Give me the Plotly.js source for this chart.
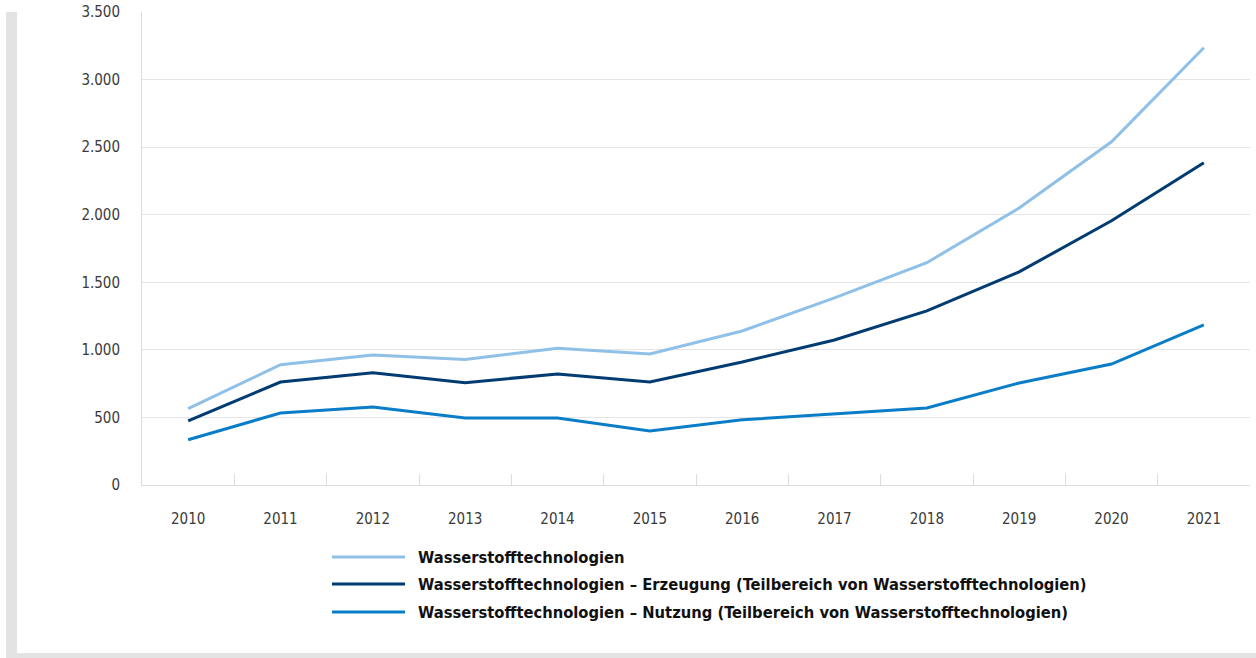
<!DOCTYPE html>
<html>
<head>
<meta charset="utf-8">
<script src="https://cdn.plot.ly/plotly-3.0.1.min.js"></script>
<style>html,body{margin:0;padding:0;background:#fff;}#chart{width:1256px;height:658px;}</style>
</head>
<body>
<div id="chart"></div>
<script>
const years = ['2010','2011','2012','2013','2014','2015','2016','2017','2018','2019','2020','2021'];
const seriesNames = [
  'Wasserstofftechnologien',
  'Wasserstofftechnologien – Erzeugung (Teilbereich von Wasserstofftechnologien)',
  'Wasserstofftechnologien – Nutzung (Teilbereich von Wasserstofftechnologien)'
];
const gesamt   = [565, 890, 962, 928, 1012, 970, 1140, 1385, 1645, 2050, 2540, 3235];
const erzeugung = [475, 762, 830, 757, 822, 763, 910, 1073, 1288, 1577, 1955, 2385];
const nutzung  = [335, 533, 577, 495, 495, 400, 482, 525, 570, 755, 895, 1185];
const colors = ['#8fc0e8', '#003b72', '#0a7dc9'];

const W = 1256, H = 658;
const M = {l: 142, r: 6, t: 12, b: 173};
const PW = W - M.l - M.r, PH = H - M.t - M.b;
const px = x => (x - M.l) / PW;
const py = y => (H - M.b - y) / PH;

const tickFont = {family: '"DejaVu Sans Condensed", "Open Sans", sans-serif', size: 15, color: '#3a3a3a'};
const legFont = {family: '"DejaVu Sans Condensed", "Open Sans", sans-serif', size: 16.4, color: '#111111'};

const data = [gesamt, erzeugung, nutzung].map((vals, i) => ({
  type: 'scatter', mode: 'lines', x: years, y: vals, name: seriesNames[i],
  line: {color: colors[i], width: 3}, showlegend: false, hoverinfo: 'x+y'
}));

const legendY = [557, 584, 612];
const shapes = [
  {type: 'rect', xref: 'paper', yref: 'paper', x0: px(6), x1: px(17), y0: py(658), y1: py(12), fillcolor: '#e3e3e3', line: {width: 0}, layer: 'below'},
  {type: 'rect', xref: 'paper', yref: 'paper', x0: px(6), x1: px(1256), y0: py(658), y1: py(653), fillcolor: '#e3e3e3', line: {width: 0}, layer: 'below'}
];
const annotations = [];
seriesNames.forEach((n, i) => {
  shapes.push({type: 'line', xref: 'paper', yref: 'paper', x0: px(332), x1: px(405), y0: py(legendY[i]), y1: py(legendY[i]), line: {color: colors[i], width: 3}});
  annotations.push({xref: 'paper', yref: 'paper', x: px(416), y: py(legendY[i]), xanchor: 'left', yanchor: 'middle', text: '<b>' + n + '</b>', showarrow: false, font: legFont});
});

const layout = {
  width: W, height: H,
  margin: M,
  paper_bgcolor: '#ffffff', plot_bgcolor: '#ffffff',
  separators: ',.',
  showlegend: false,
  xaxis: {
    type: 'category', range: [-0.5, 11.5], tickson: 'boundaries',
    ticks: 'inside', ticklen: 11, tickcolor: '#dddddd', tickwidth: 1,
    showgrid: false, showline: true, linecolor: '#dddddd', linewidth: 1,
    tickfont: tickFont, ticklabelstandoff: 20, zeroline: false, fixedrange: true
  },
  yaxis: {
    range: [0, 3500], dtick: 500, tickformat: ',d',
    showgrid: true, gridcolor: '#e6e6e6', gridwidth: 1,
    showline: true, linecolor: '#dddddd', linewidth: 1,
    zeroline: false, ticks: '', tickfont: tickFont, ticklabelstandoff: 18, fixedrange: true
  },
  shapes: shapes,
  annotations: annotations
};

Plotly.newPlot('chart', data, layout, {displayModeBar: false, staticPlot: true});
</script>
</body>
</html>
